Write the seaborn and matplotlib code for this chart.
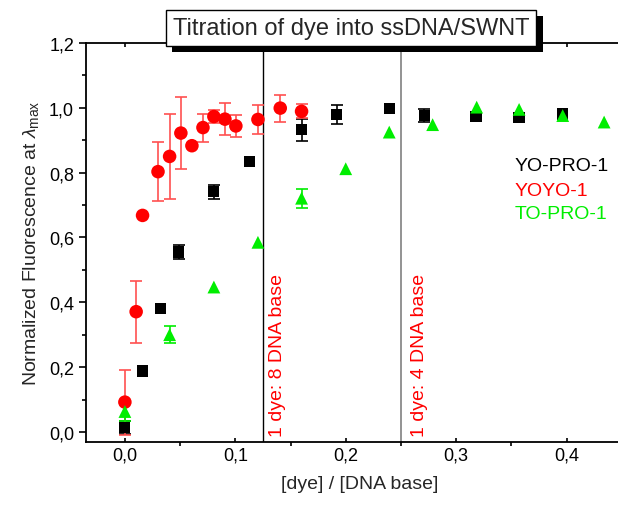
import numpy as np
import pandas as pd
import seaborn as sns
import matplotlib
matplotlib.use("Agg")
import matplotlib.pyplot as plt
from matplotlib.ticker import FuncFormatter, MultipleLocator
import matplotlib.patheffects as pe

# ---- data ----
yopro_x = [0.0, 0.0163, 0.0326, 0.0486, 0.0806, 0.1126, 0.160, 0.192, 0.2394, 0.271, 0.318, 0.357, 0.3965]
yopro_y = [0.013, 0.188, 0.380, 0.555, 0.741, 0.835, 0.932, 0.979, 0.999, 0.976, 0.974, 0.971, 0.981]
yopro_e = [0.02, 0.0, 0.0, 0.023, 0.021, 0.0, 0.034, 0.029, 0.0, 0.02, 0.0, 0.0, 0.0]

yoyo_x = [0.0, 0.0102, 0.016, 0.030, 0.0405, 0.0507, 0.0607, 0.0707, 0.0806, 0.0906, 0.1005, 0.1205, 0.1407, 0.160]
yoyo_y = [0.092, 0.371, 0.668, 0.803, 0.850, 0.922, 0.883, 0.939, 0.973, 0.965, 0.944, 0.964, 0.999, 0.989]
yoyo_e = [0.10, 0.096, 0.0, 0.09, 0.13, 0.11, 0.0, 0.043, 0.019, 0.05, 0.034, 0.046, 0.042, 0.022]

topro_x = [0.0, 0.0405, 0.0806, 0.1205, 0.160, 0.200, 0.2394, 0.2787, 0.3186, 0.357, 0.3965, 0.434]
topro_y = [0.063, 0.300, 0.447, 0.585, 0.721, 0.812, 0.925, 0.948, 1.002, 0.995, 0.976, 0.956]
topro_e = [0.03, 0.026, 0.0, 0.0, 0.029, 0.0, 0.0, 0.0, 0.0, 0.0, 0.0, 0.0]

series_names = ["YO-PRO-1", "YOYO-1", "TO-PRO-1"]
vlines_x = [0.125, 0.25]
vline_labels = ["1 dye: 8 DNA base", "1 dye: 4 DNA base"]

title = "Titration of dye into ssDNA/SWNT"
xlabel = "[dye] / [DNA base]"
ylabel = r"Normalized Fluorescence at $\lambda_{\mathrm{max}}$"

# ---- style ----
sns.set_style("ticks")
plt.rcParams["font.family"] = ["Liberation Sans", "DejaVu Sans"]
plt.rcParams["mathtext.fontset"] = "custom"
plt.rcParams["mathtext.rm"] = "Liberation Sans"
plt.rcParams["mathtext.it"] = "Liberation Sans:italic"
plt.rcParams["mathtext.bf"] = "Liberation Sans:bold"

fig = plt.figure(figsize=(6.18, 5.10), dpi=100)
ax = fig.add_axes([0.139, 0.1314, 0.885, 0.7824])

df = pd.concat([
    pd.DataFrame({"x": yopro_x, "y": yopro_y, "e": yopro_e, "dye": series_names[0]}),
    pd.DataFrame({"x": yoyo_x, "y": yoyo_y, "e": yoyo_e, "dye": series_names[1]}),
    pd.DataFrame({"x": topro_x, "y": topro_y, "e": topro_e, "dye": series_names[2]}),
], ignore_index=True)

colors = {"YO-PRO-1": "#000000", "YOYO-1": "#ff0000", "TO-PRO-1": "#00ee00"}
ecolors = {"YO-PRO-1": "#000000", "YOYO-1": "#ff5050", "TO-PRO-1": "#00ee00"}
markers = {"YO-PRO-1": "s", "YOYO-1": "o", "TO-PRO-1": "^"}
sizes = {"YO-PRO-1": 65, "YOYO-1": 95, "TO-PRO-1": 85}

# vertical lines
ax.axvline(vlines_x[0], color="black", lw=1.0, zorder=1)
ax.axvline(vlines_x[1], color="#808080", lw=1.2, zorder=1)

for name in series_names:
    sub = df[(df["dye"] == name) & (df["e"] > 0)]
    ax.errorbar(sub["x"], sub["y"], yerr=sub["e"], fmt="none", ecolor=ecolors[name],
                elinewidth=1.2, capsize=4, capthick=1.2, zorder=2)

for name in series_names:
    sub = df[df["dye"] == name]
    sns.scatterplot(data=sub, x="x", y="y", color=colors[name], marker=markers[name],
                    s=sizes[name], edgecolor="none", linewidth=0, ax=ax, zorder=3, legend=False)

ax.set_xlim(-0.0353, 0.46)
ax.set_ylim(-0.031, 1.2)
ax.xaxis.set_major_locator(MultipleLocator(0.1))
ax.xaxis.set_minor_locator(MultipleLocator(0.05))
ax.yaxis.set_major_locator(MultipleLocator(0.2))
ax.yaxis.set_minor_locator(MultipleLocator(0.1))
fmt = FuncFormatter(lambda v, p: f"{v:.1f}".replace(".", ","))
ax.xaxis.set_major_formatter(fmt)
ax.yaxis.set_major_formatter(fmt)
ax.tick_params(axis="both", which="major", direction="out", length=5, width=1.2,
               labelsize=13, color="black", labelcolor="black")
ax.tick_params(axis="both", which="minor", direction="out", length=3, width=1.2, color="black")
ax.tick_params(top=True, which="major", axis="x", direction="in", length=3)
for s in ax.spines.values():
    s.set_linewidth(1.3)
    s.set_color("black")

ax.set_xlabel(xlabel, fontsize=14, labelpad=8)
ax.set_ylabel(ylabel, fontsize=14, labelpad=6)

# annotation texts
ax.text(0.1386, -0.012, vline_labels[0], rotation=90, color="#ff0000", fontsize=14,
        ha="center", va="bottom")
ax.text(0.267, -0.012, vline_labels[1], rotation=90, color="#ff0000", fontsize=14,
        ha="center", va="bottom")

# legend text
ly = [0.821, 0.744, 0.673]
for name, yy in zip(series_names, ly):
    ax.text(0.353, yy, name, color=colors[name], fontsize=14, ha="left", va="center")

# title box with shadow
t = fig.text(351 / 618, 1 - 29 / 510, title, fontsize=17, ha="center", va="center",
             bbox=dict(boxstyle="square,pad=0.3", fc="white", ec="black", lw=1.0), zorder=10)
t.get_bbox_patch().set_path_effects([
    pe.SimplePatchShadow(offset=(4.5, -4.5), shadow_rgbFace="black", alpha=1.0),
    pe.Normal()])

fig.savefig("out.png", dpi=100)
